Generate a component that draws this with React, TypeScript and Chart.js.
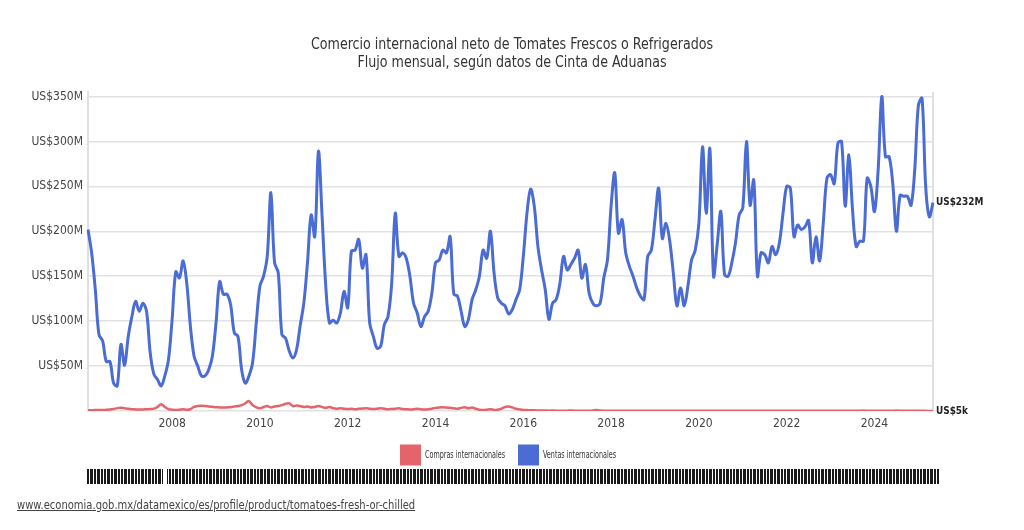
import React, { useEffect, useRef } from "react";
import { Chart, registerables } from "chart.js";

Chart.register(...registerables);

const FONT = "'Liberation Sans Narrow', 'DejaVu Sans Condensed', 'Roboto', sans-serif";

const TITLE = [
  "Comercio internacional neto de Tomates Frescos o Refrigerados",
  "Flujo mensual, según datos de Cinta de Aduanas",
];
const SOURCE_URL = "www.economia.gob.mx/datamexico/es/profile/product/tomatoes-fresh-or-chilled";

const START_YEAR = 2006;
const START_MONTH = 2;

const yearTicks = ["2008", "2010", "2012", "2014", "2016", "2018", "2020", "2022", "2024"];
const yTicks = [0, 50, 100, 150, 200, 250, 300, 350];

const seriesLabels = ["Compras internacionales", "Ventas internacionales"];
const seriesColors = ["#e5636b", "#4a6cd4"];

// Ventas internacionales (US$ millones), mensual desde 2006-02
const ventas = [
  202, 176, 135, 85, 78, 55, 55, 31, 28, 74, 51, 83,
  105, 122, 111, 120, 111, 65, 41, 35, 28, 39, 57, 102,
  155, 148, 167, 142, 94, 61, 50, 39, 39, 46, 61, 98,
  144, 130, 130, 118, 87, 83, 46, 31, 39, 54, 98, 139,
  150, 172, 243, 165, 154, 85, 81, 67, 59, 68, 95, 120,
  165, 218, 194, 289, 216, 139, 98, 101, 98, 109, 133, 115,
  178, 179, 191, 159, 174, 98, 83, 70, 72, 96, 105, 141,
  220, 172, 176, 170, 150, 120, 109, 94, 105, 111, 131, 165,
  168, 179, 176, 194, 130, 128, 111, 94, 102, 124, 135, 150,
  179, 170, 200, 154, 126, 120, 117, 108, 113, 124, 135, 172,
  220, 247, 228, 183, 157, 135, 102, 120, 124, 142, 172, 157,
  163, 170, 179, 148, 163, 131, 120, 117, 120, 148, 168, 228,
  265, 198, 213, 176, 161, 150, 137, 128, 124, 172, 179, 213,
  248, 192, 209, 190, 154, 117, 137, 117, 139, 168, 179, 209,
  294, 220, 292, 150, 185, 222, 152, 150, 165, 187, 218, 226,
  300, 229, 257, 150, 176, 174, 165, 183, 174, 187, 220, 250,
  248, 194, 207, 202, 205, 212, 165, 194, 167, 209, 259, 263,
  253, 298, 300, 228, 285, 224, 183, 189, 189, 259, 250, 222,
  268, 350, 283, 283, 253, 200, 240, 239, 239, 229, 268, 340,
  348, 250, 216, 232,
];

// Compras internacionales (US$ millones)
const compras = [
  0.8, 0.9, 1.0, 1.2, 1.0, 1.3, 1.6, 2.2, 3.2, 3.6, 3.0, 2.4,
  2.0, 1.8, 1.6, 1.8, 2.0, 2.2, 2.6, 4.5, 7.5, 4.5, 2.0, 1.5,
  1.2, 1.5, 2.0, 1.5, 2.0, 4.5, 5.5, 5.8, 5.5, 5.0, 4.6, 4.2,
  4.0, 3.8, 4.0, 4.2, 5.0, 5.5, 6.5, 8.5, 11.0, 6.5, 4.0, 3.0,
  4.5, 5.5, 4.0, 5.0, 5.5, 6.5, 8.0, 8.5, 5.5, 6.0, 5.5, 4.5,
  5.0, 4.0, 4.5, 5.5, 4.5, 3.5, 4.5, 3.0, 2.5, 3.0, 2.5, 2.2,
  2.5, 2.0, 2.5, 2.8, 3.0, 2.5, 2.2, 2.5, 3.0, 2.5, 2.0, 2.2,
  2.5, 3.0, 2.2, 2.0, 1.8, 2.0, 2.5, 2.0, 1.8, 2.0, 2.5, 3.5,
  4.0, 4.2, 3.8, 3.5, 3.0, 2.5, 3.5, 4.2, 3.0, 4.0, 2.5, 1.5,
  1.2, 1.5, 2.0, 1.2, 1.5, 2.5, 4.5, 5.0, 4.0, 2.5, 1.8, 1.2,
  1.0, 0.8, 0.7, 0.6, 0.5, 0.5, 0.4, 0.5, 0.4, 0.4, 0.3, 0.4,
  0.5, 0.4, 0.3, 0.3, 0.4, 0.3, 0.6, 1.2, 0.5, 0.3, 0.3, 0.2,
  0.2, 0.3, 0.2, 0.2, 0.3, 0.2, 0.2, 0.2, 0.3, 0.2, 0.2, 0.2,
  0.3, 0.2, 0.2, 0.2, 0.2, 0.3, 0.2, 0.2, 0.2, 0.2, 0.2, 0.3,
  0.2, 0.2, 0.2, 0.2, 0.3, 0.2, 0.2, 0.2, 0.2, 0.2, 0.3, 0.2,
  0.2, 0.2, 0.2, 0.2, 0.2, 0.3, 0.2, 0.2, 0.2, 0.2, 0.2, 0.2,
  0.3, 0.2, 0.2, 0.2, 0.2, 0.2, 0.2, 0.3, 0.2, 0.2, 0.2, 0.2,
  0.2, 0.3, 0.2, 0.2, 0.2, 0.2, 0.3, 0.2, 0.6, 0.2, 0.2, 0.2,
  0.2, 0.2, 0.3, 0.2, 0.2, 0.5, 0.2, 0.2, 0.2, 0.3, 0.2, 0.2,
  0.2, 0.2, 0.1, 0.005,
];

const months: string[] = [];
for (let i = 0; i < ventas.length; i++) {
  const t = START_MONTH - 1 + i;
  const y = START_YEAR + Math.floor(t / 12);
  const mo = (t % 12) + 1;
  months.push(`${y}-${String(mo).padStart(2, "0")}`);
}

const fmtMoney = (v: number) =>
  v >= 1 ? `US$${Math.round(v)}M` : `US$${Math.round(v * 1000)}k`;

function squeezeText(ctx: CanvasRenderingContext2D, text: string, x: number, y: number, sx: number) {
  ctx.save();
  ctx.translate(x, y);
  ctx.scale(sx, 1);
  ctx.fillText(text, 0, 0);
  ctx.restore();
}

const extrasPlugin = {
  id: "extras",
  beforeDatasetsDraw(chart: any) {
    const { ctx, chartArea } = chart;
    ctx.save();
    ctx.strokeStyle = "#e0e0e0";
    ctx.lineWidth = 2;
    ctx.beginPath();
    ctx.moveTo(chartArea.right, chartArea.top);
    ctx.lineTo(chartArea.right, chartArea.bottom);
    ctx.stroke();
    ctx.restore();
  },
  afterDatasetsDraw(chart: any) {
    const { ctx, chartArea } = chart;
    ctx.save();
    // title
    ctx.font = `16px ${FONT}`;
    ctx.fillStyle = "#333";
    ctx.textBaseline = "middle";
    ctx.textAlign = "left";
    const w0 = ctx.measureText(TITLE[0]).width;
    const tsx = Math.min(1, 402 / w0);
    TITLE.forEach((line, i) => {
      const w = ctx.measureText(line).width * tsx;
      squeezeText(ctx, line, 512 - w / 2, 45 + i * 17.5, tsx);
    });

    // end labels
    ctx.font = `bold 11px ${FONT}`;
    ctx.fillStyle = "#222";
    chart.data.datasets.forEach((ds: any, i: number) => {
      const meta = chart.getDatasetMeta(i);
      const pt = meta.data[meta.data.length - 1];
      const v = ds.data[ds.data.length - 1];
      const txt = fmtMoney(v);
      squeezeText(ctx, txt, chartArea.right + 3, pt.y, 0.9);
    });

    // legend
    ctx.font = `10px ${FONT}`;
    const lsx = Math.min(1, 80 / ctx.measureText(seriesLabels[0]).width);
    const box = 21;
    const gapText = 4;
    const gapItem = 13;
    const widths = chart.data.datasets.map(
      (ds: any) => box + gapText + ctx.measureText(ds.label).width * lsx
    );
    const total = widths.reduce((a: number, b: number) => a + b, 0) + gapItem * (widths.length - 1);
    let x = 508 - total / 2;
    const cy = 455;
    chart.data.datasets.forEach((ds: any, i: number) => {
      ctx.fillStyle = ds.borderColor;
      ctx.fillRect(x, cy - box / 2, box, box);
      ctx.fillStyle = "#333";
      squeezeText(ctx, ds.label, x + box + gapText, cy, lsx);
      x += widths[i] + gapItem;
    });
    ctx.restore();
  },
};

export default function App() {
  const ref = useRef<HTMLCanvasElement | null>(null);
  useEffect(() => {
    if (!ref.current) return;
    const chart = new Chart(ref.current, {
      type: "line",
      data: {
        labels: months,
        datasets: [
          {
            label: seriesLabels[0],
            data: compras,
            borderColor: seriesColors[0],
            backgroundColor: seriesColors[0],
            borderWidth: 2.5,
            pointRadius: 0,
            tension: 0.35,
          },
          {
            label: seriesLabels[1],
            data: ventas,
            borderColor: seriesColors[1],
            backgroundColor: seriesColors[1],
            borderWidth: 3,
            pointRadius: 0,
            tension: 0.35,
          },
        ],
      },
      options: {
        responsive: false,
        animation: false,
        layout: { padding: { left: 0, right: 91, top: 92, bottom: 95 } },
        plugins: {
          legend: { display: false },
          tooltip: { enabled: false },
          title: { display: false },
        },
        scales: {
          x: {
            type: "category",
            grid: { display: false, drawTicks: false },
            border: { display: false },
            afterFit: (s: any) => {
              s.height = 24;
            },
            ticks: {
              autoSkip: false,
              maxRotation: 0,
              padding: 6,
              color: "#444",
              font: { family: FONT, size: 12 },
              callback: (_v: any, i: number) => {
                const lab = months[i];
                const [y, m] = lab.split("-");
                return m === "01" && yearTicks.includes(y) ? y : null;
              },
            },
          },
          y: {
            min: 0,
            max: 355,
            afterFit: (s: any) => {
              s.width = 88;
            },
            afterBuildTicks: (s: any) => {
              s.ticks = yTicks.map((v) => ({ value: v }));
            },
            grid: { color: "#e2e2e2", lineWidth: 1.5, drawTicks: false },
            border: { display: true, color: "#e0e0e0", width: 2 },
            ticks: {
              padding: 5,
              color: "#444",
              font: { family: FONT, size: 12 },
              callback: (v: any) => (v === 0 ? "" : `US$${v}M`),
            },
          },
        },
      },
      plugins: [extrasPlugin],
    });
    return () => chart.destroy();
  }, []);

  return (
    <div style={{ position: "fixed", left: 0, top: 0, width: 1024, height: 530, background: "#fff" }}>
      <canvas ref={ref} width={1024} height={530} style={{ position: "absolute", left: 0, top: 0 }} />
      <div
        style={{
          position: "absolute",
          left: 87,
          top: 469,
          width: 853,
          height: 15,
          background: "repeating-linear-gradient(90deg, #1a1a1a 0px, #1a1a1a 2.4px, #fff 2.4px, #fff 3.4px)",
        }}
      />
      <div style={{ position: "absolute", left: 163, top: 469, width: 4, height: 15, background: "#fff" }} />
      <a
        href={`https://${SOURCE_URL}`}
        style={{
          position: "absolute",
          left: 17,
          top: 498,
          fontFamily: FONT,
          fontSize: 12,
          color: "#444",
          textDecoration: "underline",
          whiteSpace: "nowrap",
          transform: "scaleX(0.925)",
          transformOrigin: "left center",
        }}
      >
        {SOURCE_URL}
      </a>
    </div>
  );
}
